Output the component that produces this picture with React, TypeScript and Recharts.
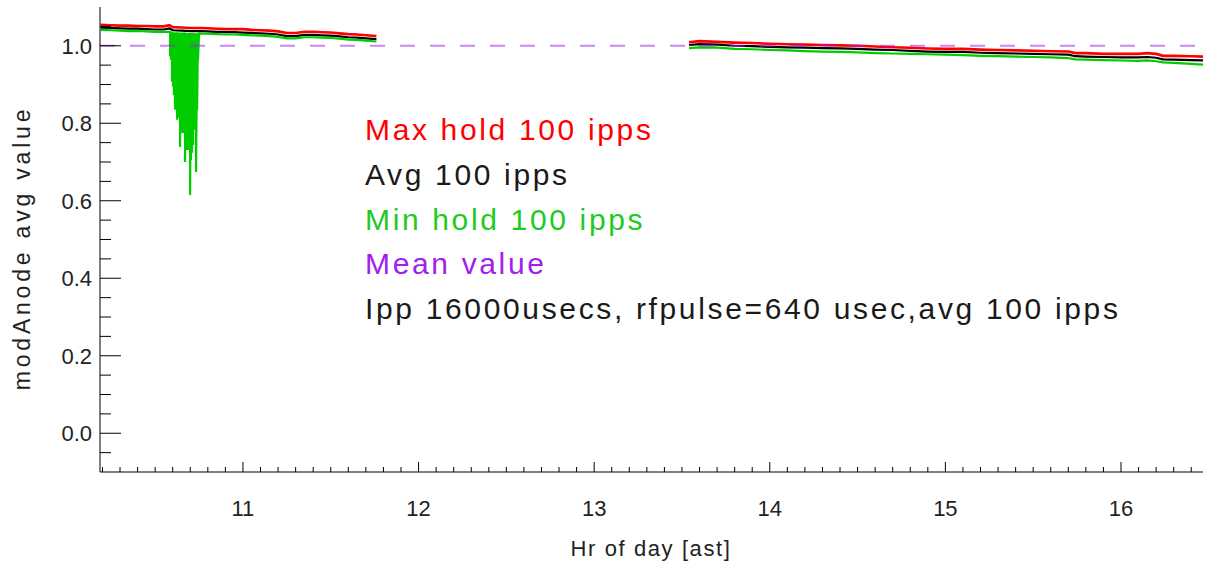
import React from "react";
import { LineChart, Line, XAxis, YAxis, ReferenceLine } from "recharts";

// first block of data (before the gap)
const hoursA = [
  10.19, 10.25, 10.3, 10.35, 10.4, 10.45, 10.5, 10.55, 10.58, 10.6, 10.65, 10.7, 10.75, 10.8, 10.85,
  10.9, 10.95, 11.0, 11.05, 11.1, 11.15, 11.2, 11.25, 11.3, 11.35, 11.4, 11.45, 11.5, 11.55, 11.6,
  11.65, 11.7, 11.76,
];
const maxA = [
  1.054, 1.053, 1.052, 1.052, 1.051, 1.051, 1.05, 1.05, 1.053, 1.048, 1.047, 1.046, 1.046, 1.045, 1.044,
  1.043, 1.043, 1.043, 1.041, 1.04, 1.039, 1.037, 1.033, 1.033, 1.036, 1.036, 1.035, 1.034, 1.032, 1.03,
  1.029, 1.027, 1.025,
];
const avgA = [
  1.047, 1.046, 1.045, 1.044, 1.044, 1.043, 1.042, 1.042, 1.045, 1.04, 1.039, 1.038, 1.038, 1.037, 1.036,
  1.035, 1.035, 1.034, 1.033, 1.032, 1.031, 1.029, 1.025, 1.025, 1.028, 1.028, 1.027, 1.026, 1.024, 1.022,
  1.021, 1.019, 1.017,
];
const minHoursA = [
  10.19, 10.25, 10.3, 10.35, 10.4, 10.45, 10.5, 10.55, 10.75, 10.8, 10.85, 10.9, 10.95, 11.0, 11.05,
  11.1, 11.15, 11.2, 11.25, 11.3, 11.35, 11.4, 11.45, 11.5, 11.55, 11.6, 11.65, 11.7, 11.76,
];
const minA = [
  1.041, 1.04, 1.039, 1.038, 1.038, 1.037, 1.036, 1.036, 1.032, 1.031, 1.03, 1.029, 1.029, 1.028, 1.027,
  1.026, 1.025, 1.023, 1.019, 1.019, 1.022, 1.022, 1.021, 1.02, 1.018, 1.016, 1.015, 1.013, 1.011,
];

// drop-outs of the min hold around 10.6-10.75
const dipHours = [
  10.585, 10.59, 10.596, 10.602, 10.607, 10.613, 10.619, 10.625, 10.63, 10.636, 10.642, 10.647, 10.653,
  10.659, 10.664, 10.67, 10.676, 10.682, 10.687, 10.693, 10.699, 10.704, 10.71, 10.716, 10.721, 10.727,
  10.733, 10.739, 10.744,
];
const dipTop = [
  1.036, 1.036, 1.036, 1.035, 1.035, 1.035, 1.035, 1.035, 1.034, 1.034, 1.034, 1.034, 1.034, 1.034,
  1.034, 1.034, 1.033, 1.033, 1.033, 1.033, 1.033, 1.033, 1.033, 1.033, 1.033, 1.032, 1.032, 1.032, 1.032,
];
const dipLow = [
  0.972, 0.964, 0.907, 0.894, 0.873, 0.835, 0.853, 0.809, 0.814, 0.86, 0.739, 0.796, 0.775, 0.788, 0.775,
  0.7, 0.731, 0.736, 0.731, 0.757, 0.615, 0.705, 0.724, 0.744, 0.783, 0.809, 0.674, 0.835, 0.964,
];

// second block (after the gap)
const hoursB = [
  13.54, 13.6, 13.7, 13.8, 13.9, 14.0, 14.1, 14.2, 14.3, 14.4, 14.5, 14.6, 14.7, 14.8, 14.9, 15.0, 15.1,
  15.2, 15.3, 15.4, 15.5, 15.6, 15.7, 15.74, 15.8, 15.9, 16.0, 16.1, 16.15, 16.2, 16.24, 16.3, 16.4, 16.47,
];
const maxB = [
  1.009, 1.012, 1.01, 1.008, 1.007, 1.005, 1.004, 1.003, 1.002, 1.001, 1.0, 0.998, 0.996, 0.995, 0.993,
  0.992, 0.992, 0.99, 0.989, 0.988, 0.987, 0.986, 0.985, 0.981, 0.981, 0.979, 0.979, 0.979, 0.981, 0.979,
  0.974, 0.974, 0.973, 0.972,
];
const avgB = [
  1.002, 1.004, 1.003, 1.0, 0.999, 0.997, 0.996, 0.995, 0.994, 0.993, 0.992, 0.99, 0.989, 0.987, 0.985,
  0.984, 0.984, 0.982, 0.981, 0.98, 0.979, 0.978, 0.977, 0.973, 0.972, 0.971, 0.97, 0.97, 0.971, 0.969,
  0.965, 0.964, 0.963, 0.962,
];
const minB = [
  0.994, 0.996, 0.995, 0.992, 0.991, 0.989, 0.988, 0.986, 0.985, 0.984, 0.983, 0.981, 0.98, 0.979, 0.978,
  0.977, 0.976, 0.974, 0.973, 0.972, 0.971, 0.97, 0.968, 0.965, 0.964, 0.963, 0.962, 0.961, 0.962, 0.96,
  0.957, 0.956, 0.953, 0.951,
];

const gapHour = 12.65;
const meanValue = 1.0;

const xDomain = [10.186, 16.467];
const yDomain = [-0.1, 1.1];
const xMajor = [11, 12, 13, 14, 15, 16];
const xMajorLabels = ["11", "12", "13", "14", "15", "16"];
const yMajor = [0.0, 0.2, 0.4, 0.6, 0.8, 1.0];
const yMajorLabels = ["0.0", "0.2", "0.4", "0.6", "0.8", "1.0"];

const legendLines = [
  { text: "Max hold 100 ipps", color: "#ff0000" },
  { text: "Avg 100 ipps", color: "#1a1a1a" },
  { text: "Min hold 100 ipps", color: "#1ecb1e" },
  { text: "Mean value", color: "#a020f0" },
  { text: "Ipp 16000usecs, rfpulse=640 usec,avg 100 ipps", color: "#1a1a1a" },
];

type Pt = { h: number; v: number | null };

function block(hours: number[], vals: number[]): Pt[] {
  return hours.map((h, i) => ({ h, v: vals[i] }));
}

const maxData: Pt[] = [...block(hoursA, maxA), { h: gapHour, v: null }, ...block(hoursB, maxB)];
const avgData: Pt[] = [...block(hoursA, avgA), { h: gapHour, v: null }, ...block(hoursB, avgB)];

const dipPts: Pt[] = [];
dipHours.forEach((h, i) => {
  dipPts.push({ h, v: dipTop[i] });
  dipPts.push({ h, v: dipLow[i] });
});
const minFirst = [...block(minHoursA, minA), ...dipPts].sort((a, b) => a.h - b.h);
const minData: Pt[] = [...minFirst, { h: gapHour, v: null }, ...block(hoursB, minB)];

// minor ticks (0.1 hr, 0.05 units)
const xTicks: number[] = [];
for (let i = 102; i <= 164; i++) xTicks.push(i / 10);
const yTicks: number[] = [];
for (let i = -1; i <= 21; i++) yTicks.push(Math.round(i * 5) / 100);

const FONT = '"Liberation Sans", Arial, Helvetica, sans-serif';
const INK = "#222";

const findMajor = (v: number, majors: number[]) => majors.findIndex((m) => Math.abs(m - v) < 1e-6);

const XTick = (top: boolean) => (props: any) => {
  const { x, y, payload } = props;
  const idx = findMajor(payload.value, xMajor);
  const len = idx >= 0 ? 10 : 5;
  return (
    <g>
      <line x1={x} x2={x} y1={y} y2={top ? y + len : y - len} stroke="#000" strokeWidth={1} />
      {!top && idx >= 0 && (
        <text x={x} y={y + 44} textAnchor="middle" fontFamily={FONT} fontSize={22} fill={INK}>
          {xMajorLabels[idx]}
        </text>
      )}
    </g>
  );
};

const YTick = (right: boolean) => (props: any) => {
  const { x, y, payload } = props;
  const idx = findMajor(payload.value, yMajor);
  const len = idx >= 0 ? 21 : 11;
  return (
    <g>
      <line x1={x} x2={right ? x - len : x + len} y1={y} y2={y} stroke="#000" strokeWidth={1} />
      {!right && idx >= 0 && (
        <text x={x - 8} y={y + 8} textAnchor="end" fontFamily={FONT} fontSize={22} fill={INK}>
          {yMajorLabels[idx]}
        </text>
      )}
    </g>
  );
};

export default function App() {
  return (
    <div style={{ position: "relative", width: 1207, height: 565, background: "#fff" }}>
      <style>{"body{margin:0}"}</style>
      <LineChart width={1207} height={565} margin={{ top: 7, right: 4, bottom: 0, left: 0 }}>
        <XAxis
          xAxisId="b"
          dataKey="h"
          type="number"
          domain={xDomain}
          allowDataOverflow
          ticks={xTicks}
          interval={0}
          height={93}
          tickSize={0}
          tickMargin={0}
          tickLine={false}
          axisLine={{ stroke: "#000" }}
          tick={XTick(false)}
        />
        <XAxis
          xAxisId="t"
          orientation="top"
          dataKey="h"
          type="number"
          domain={xDomain}
          allowDataOverflow
          ticks={xTicks}
          interval={0}
          height={0}
          tickSize={0}
          tickMargin={0}
          tickLine={false}
          axisLine={{ stroke: "#000" }}
          tick={XTick(true)}
        />
        <YAxis
          yAxisId="l"
          type="number"
          domain={yDomain}
          allowDataOverflow
          ticks={yTicks}
          interval={0}
          width={100}
          tickSize={0}
          tickMargin={0}
          tickLine={false}
          axisLine={{ stroke: "#000" }}
          tick={YTick(false)}
        />
        <YAxis
          yAxisId="r"
          orientation="right"
          type="number"
          domain={yDomain}
          allowDataOverflow
          ticks={yTicks}
          interval={0}
          width={0}
          tickSize={0}
          tickMargin={0}
          tickLine={false}
          axisLine={{ stroke: "#000" }}
          tick={YTick(true)}
        />
        <Line
          xAxisId="b"
          yAxisId="l"
          data={maxData}
          dataKey="v"
          type="linear"
          stroke="#ff0000"
          strokeWidth={2.6}
          dot={false}
          activeDot={false}
          isAnimationActive={false}
        />
        <Line
          xAxisId="b"
          yAxisId="l"
          data={avgData}
          dataKey="v"
          type="linear"
          stroke="#000000"
          strokeWidth={2.2}
          dot={false}
          activeDot={false}
          isAnimationActive={false}
        />
        <Line
          xAxisId="b"
          yAxisId="l"
          data={minData}
          dataKey="v"
          type="linear"
          stroke="#00cc00"
          strokeWidth={2.2}
          dot={false}
          activeDot={false}
          isAnimationActive={false}
        />
        <ReferenceLine
          xAxisId="b"
          yAxisId="l"
          y={meanValue}
          stroke="#a020f0"
          strokeOpacity={0.55}
          strokeWidth={2}
          strokeDasharray="15 15"
        />
      </LineChart>
      <svg
        width={1207}
        height={565}
        style={{ position: "absolute", left: 0, top: 0, pointerEvents: "none" }}
      >
        {legendLines.map((l, i) => (
          <text
            key={l.text}
            x={365}
            y={140 + i * 44.8}
            fontFamily={FONT}
            fontSize={30}
            letterSpacing={2.65}
            fill={l.color}
          >
            {l.text}
          </text>
        ))}
        <text
          x={651}
          y={556}
          textAnchor="middle"
          fontFamily={FONT}
          fontSize={22}
          letterSpacing={1.6}
          fill={INK}
        >
          Hr of day [ast]
        </text>
        <text
          transform="translate(30,248) rotate(-90)"
          textAnchor="middle"
          fontFamily={FONT}
          fontSize={23}
          letterSpacing={3.8}
          fill={INK}
        >
          modAnode avg value
        </text>
      </svg>
    </div>
  );
}
